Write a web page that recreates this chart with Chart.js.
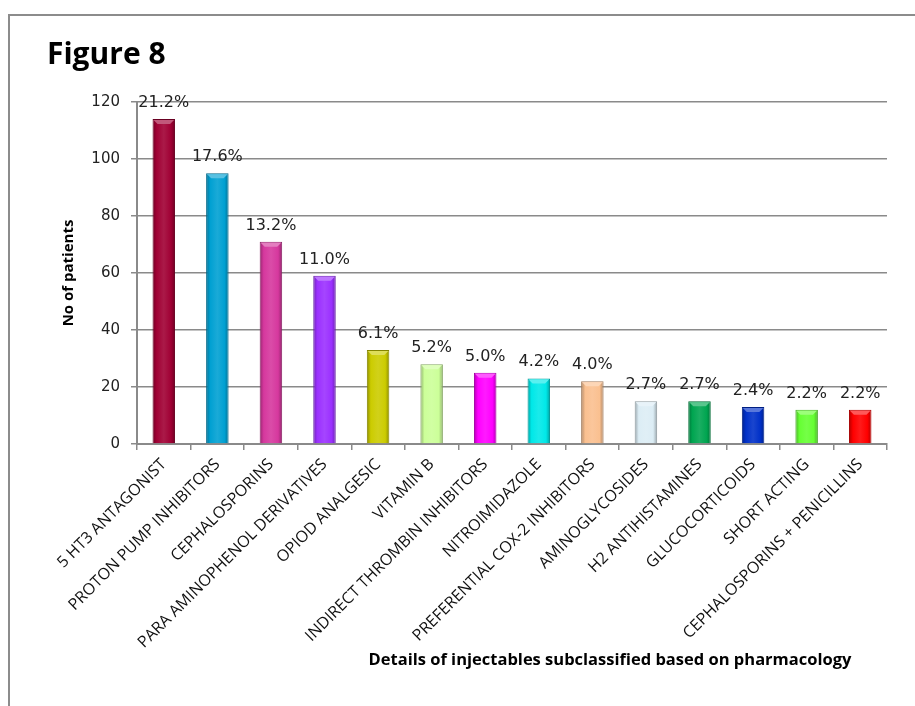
<!DOCTYPE html>
<html>
<head>
<meta charset="utf-8">
<script src="https://cdn.jsdelivr.net/npm/chart.js@4.4.1/dist/chart.umd.min.js"></script>
<style>
  html, body { margin: 0; padding: 0; background: #fff; }
  #frame {
    position: absolute; left: 8px; top: 14px; right: 0; bottom: 0;
    border-left: 2px solid #8c8c8c; border-top: 2px solid #8c8c8c;
  }
  #wrap { position: absolute; left: 0; top: 0; width: 915px; height: 706px; }
</style>
</head>
<body>
<div id="frame"></div>
<div id="wrap"><canvas id="figure8"></canvas></div>
<script>
// Injectables subclassified by pharmacology
const categories = [
    '5 HT3 ANTAGONIST',
    'PROTON PUMP INHIBITORS',
    'CEPHALOSPORINS',
    'PARA AMINOPHENOL DERIVATIVES',
    'OPIOD ANALGESIC',
    'VITAMIN B',
    'INDIRECT THROMBIN INHIBITORS',
    'NITROIMIDAZOLE',
    'PREFERENTIAL COX-2 INHIBITORS',
    'AMINOGLYCOSIDES',
    'H2 ANTIHISTAMINES',
    'GLUCOCORTICOIDS',
    'SHORT ACTING',
    'CEPHALOSPORINS + PENICILLINS'
];
const patientCounts = [114, 95, 71, 59, 33, 28, 25, 23, 22, 15, 15, 13, 12, 12];
const percentLabels = ['21.2%', '17.6%', '13.2%', '11.0%', '6.1%', '5.2%', '5.0%',
    '4.2%', '4.0%', '2.7%', '2.7%', '2.4%', '2.2%', '2.2%'];
const barColors = ['#a00034', '#00a0d2', '#d6389e', '#9b30ff', '#cccc00', '#ccff99', '#ff00ff',
    '#00e8e8', '#fac090', '#dcedf5', '#00a550', '#0030c8', '#66ff33', '#ff0000'];
const yTickMax = 120;
const yTickStep = 20;

const chartTitle = 'Figure 8';
const xAxisTitle = 'Details of injectables subclassified based on pharmacology';
const yAxisTitle = 'No of patients';

const BAR_PCT = 0.42;

// mix a hex colour toward black (amt < 0) or white (amt > 0)
function shade(hex, amt) {
    const n = parseInt(hex.slice(1), 16);
    let r = (n >> 16) & 255, g = (n >> 8) & 255, b = n & 255;
    const t = amt < 0 ? 0 : 255;
    const p = Math.abs(amt);
    r = Math.round(r + (t - r) * p);
    g = Math.round(g + (t - g) * p);
    b = Math.round(b + (t - b) * p);
    return `rgb(${r},${g},${b})`;
}

// horizontal gradient to give the bars their glossy look
function barFill(context) {
    const chart = context.chart;
    const base = barColors[context.dataIndex];
    const xScale = chart.scales && chart.scales.x;
    if (!chart.chartArea || !xScale) return base;
    const cx = xScale.getPixelForValue(context.dataIndex);
    const half = (xScale.width / categories.length) * BAR_PCT / 2;
    const grad = chart.ctx.createLinearGradient(cx - half, 0, cx + half, 0);
    grad.addColorStop(0, shade(base, -0.3));
    grad.addColorStop(0.18, base);
    grad.addColorStop(0.5, shade(base, 0.1));
    grad.addColorStop(0.82, base);
    grad.addColorStop(1, shade(base, -0.3));
    return grad;
}

const canvas = document.getElementById('figure8');
const ctx = canvas.getContext('2d');

new Chart(ctx, {
    type: 'bar',
    data: {
        labels: categories,
        datasets: [{
            data: patientCounts,
            backgroundColor: barFill,
            borderColor: barColors.map((c) => shade(c, -0.35)),
            borderWidth: 1,
            borderSkipped: 'bottom',
            categoryPercentage: 1,
            barPercentage: BAR_PCT,
        }],
    },
    options: {
        animation: false,
        responsive: true,
        maintainAspectRatio: false,
        devicePixelRatio: 1,
        layout: {
            padding: { left: 47, top: 102, right: 28, bottom: 34 },
        },
        plugins: {
            legend: { display: false },
            tooltip: { enabled: false },
            title: { display: false },
        },
        scales: {
            x: {
                grid: {
                    display: true,
                    offset: true,
                    drawOnChartArea: false,
                    drawTicks: true,
                    tickLength: 6,
                    color: '#8a8a8a',
                    lineWidth: 1.5,
                },
                border: { display: true, color: '#8a8a8a', width: 2 },
                ticks: {
                    autoSkip: false,
                    minRotation: 45,
                    maxRotation: 45,
                    padding: 5,
                    color: '#111',
                    font: { family: "'Open Sans', sans-serif", size: 16 },
                },
                afterFit(scale) {
                    scale.height = 228;
                },
            },
            y: {
                min: 0,
                max: yTickMax,
                grid: {
                    color: '#8a8a8a',
                    lineWidth: 1.5,
                    tickLength: 6,
                },
                border: { display: true, color: '#8a8a8a', width: 2 },
                ticks: {
                    stepSize: yTickStep,
                    padding: 11,
                    color: '#222',
                    font: { family: "'DejaVu Sans', sans-serif", size: 15 },
                },
                title: {
                    display: true,
                    text: yAxisTitle,
                    color: '#000',
                    padding: { top: 13, bottom: 4 },
                    font: { family: "'Open Sans', sans-serif", size: 15, weight: 'bold' },
                },
                afterFit(scale) {
                    scale.width = 90;
                },
            },
        },
    },
    plugins: [{
        id: 'figureText',
        afterDatasetsDraw(chart) {
            const { ctx, chartArea } = chart;
            ctx.save();

            // light cap on top of every bar
            chart.getDatasetMeta(0).data.forEach((bar, i) => {
                const half = bar.width / 2;
                ctx.fillStyle = shade(barColors[i], 0.35);
                ctx.beginPath();
                ctx.moveTo(bar.x - half + 1, bar.y + 1);
                ctx.lineTo(bar.x + half - 1, bar.y + 1);
                ctx.lineTo(bar.x + half - 5, bar.y + 5);
                ctx.lineTo(bar.x - half + 5, bar.y + 5);
                ctx.closePath();
                ctx.fill();
            });

            // percentage labels
            ctx.fillStyle = '#222';
            ctx.textAlign = 'center';
            ctx.textBaseline = 'alphabetic';
            ctx.font = "16px 'DejaVu Sans', sans-serif";
            chart.getDatasetMeta(0).data.forEach((bar, i) => {
                ctx.fillText(percentLabels[i], bar.x, bar.y - 12);
            });

            // figure caption
            ctx.fillStyle = '#000';
            ctx.textAlign = 'left';
            ctx.font = "bold 30px 'Open Sans', sans-serif";
            ctx.fillText(chartTitle, 47, 64);

            // x axis title
            ctx.textAlign = 'center';
            ctx.textBaseline = 'middle';
            ctx.font = "bold 16.5px 'Open Sans', sans-serif";
            ctx.fillText(xAxisTitle, chartArea.right - 277, 660);
            ctx.restore();
        },
    }],
});
</script>
</body>
</html>
